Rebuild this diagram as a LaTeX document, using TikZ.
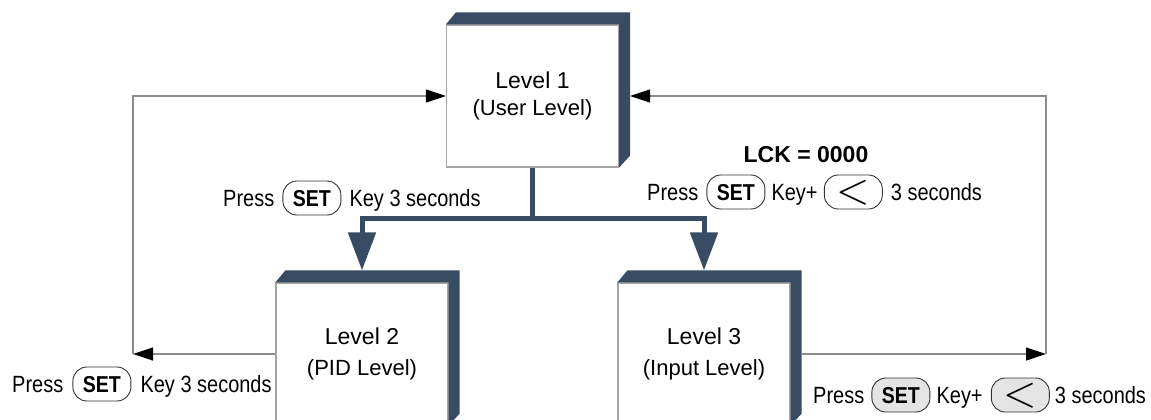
\documentclass[tikz,border=0pt]{standalone}
\usepackage{fontspec}
\setmainfont{Liberation Sans}
\newfontfamily\narrowfont[FakeStretch=0.85]{Liberation Sans}
\newfontfamily\lmfont{lmroman10-regular.otf}
\usetikzlibrary{arrows.meta,positioning}
\definecolor{slate}{RGB}{55,75,99}
\definecolor{edgegray}{RGB}{165,165,165}
\definecolor{linegray}{RGB}{140,140,140}
\definecolor{keygray}{RGB}{228,228,228}

\begin{document}
\begin{tikzpicture}[x=1pt, y=-1pt,
  level/.style={draw=edgegray, line width=1.2pt, fill=white, minimum width=172pt, minimum height=142pt, inner sep=0pt, align=center, font=\fontsize{23}{27}\selectfont},
  depth/.style={fill=slate},
  lbl/.style={inner sep=0pt, font=\narrowfont\fontsize{23.5}{23.5}\selectfont},
  key/.style={draw=black!80, line width=0.9pt, fill=white, rounded corners=14pt, minimum width=58pt, minimum height=34pt, inner sep=0pt, text height=16pt, text depth=0pt, font=\narrowfont\bfseries\fontsize{23}{23}\selectfont},
  greykey/.style={key, fill=keygray},
  link/.style={draw=linegray, line width=1.2pt, -{Triangle[length=20pt,width=13pt,color=black]}},
  push/.style={draw=slate, line width=5pt, -{Triangle[length=38pt,width=27pt]}}
]
\useasboundingbox (0,0) rectangle (1151,420);
\clip (0,0) rectangle (1151,420);

% levels
\node[level] (L1) at (532.5,96) {Level 1\\{\fontsize{22}{22}\selectfont (User Level)}};
\node[level] (L2) at (362,354) {Level 2\\[4pt]{\fontsize{22}{22}\selectfont (PID Level)}};
\node[level] (L3) at (704,354) {Level 3\\[4pt]{\fontsize{22}{22}\selectfont (Input Level)}};
\foreach \b in {L1,L2,L3}
  \fill[depth] (\b.north west) -- ++(10,-12) -- ([shift={(11,-12)}]\b.north east)
    -- ([shift={(11,-12)}]\b.south east) -- (\b.south east) -- (\b.north east) -- cycle;

% level 1 -> level 2 / level 3
\draw[push] (L1.south) -- ++(0,51) -| ([yshift=12pt]L2.north);
\draw[push] (L1.south) -- ++(0,51) -| ([yshift=12pt]L3.north);

% way back to level 1
\coordinate (lturn) at (133,354);
\coordinate (rturn) at (1046,354);
\draw[link] (L2.west) -- (lturn);
\draw[link] (lturn) |- (L1.west);
\draw[link] ([xshift=11pt]L3.east) -- (rturn);
\draw[link] (rturn) |- ([xshift=11pt]L1.east);

% key labels
\node[lbl, anchor=base west] (ta) at (223,206) {Press};
\node[key, base right=8pt of ta] (tak) {SET};
\node[lbl, base right=8pt of tak] (tb) {Key 3 seconds};

\node[lbl, font=\bfseries\fontsize{23}{23}\selectfont, anchor=base] (lck) at (806,162) {LCK = 0000};
\node[lbl, anchor=base west] (ra) at (647,200) {Press};
\node[key, base right=8pt of ra] (rak) {SET};
\node[lbl, base right=6pt of rak] (rb) {Key+};
\node[key, base right=6pt of rb, font=\lmfont\fontsize{43}{43}\selectfont] (rbk) {\raisebox{-3pt}{<}};
\node[lbl, base right=8pt of rbk] (rbt) {3 seconds};

\node[lbl, anchor=base west] (la) at (12,392) {Press};
\node[key, base right=9pt of la] (lak) {SET};
\node[lbl, base right=9pt of lak] (lb) {Key 3 seconds};

\node[lbl, anchor=base west] (ba) at (813,403) {Press};
\node[greykey, base right=7pt of ba] (bak) {SET};
\node[lbl, base right=6pt of bak] (bb) {Key+};
\node[greykey, base right=8pt of bb, font=\lmfont\fontsize{43}{43}\selectfont] (bbk) {\raisebox{-3pt}{<}};
\node[lbl, base right=5pt of bbk] (bbt) {3 seconds};
\end{tikzpicture}
\end{document}
